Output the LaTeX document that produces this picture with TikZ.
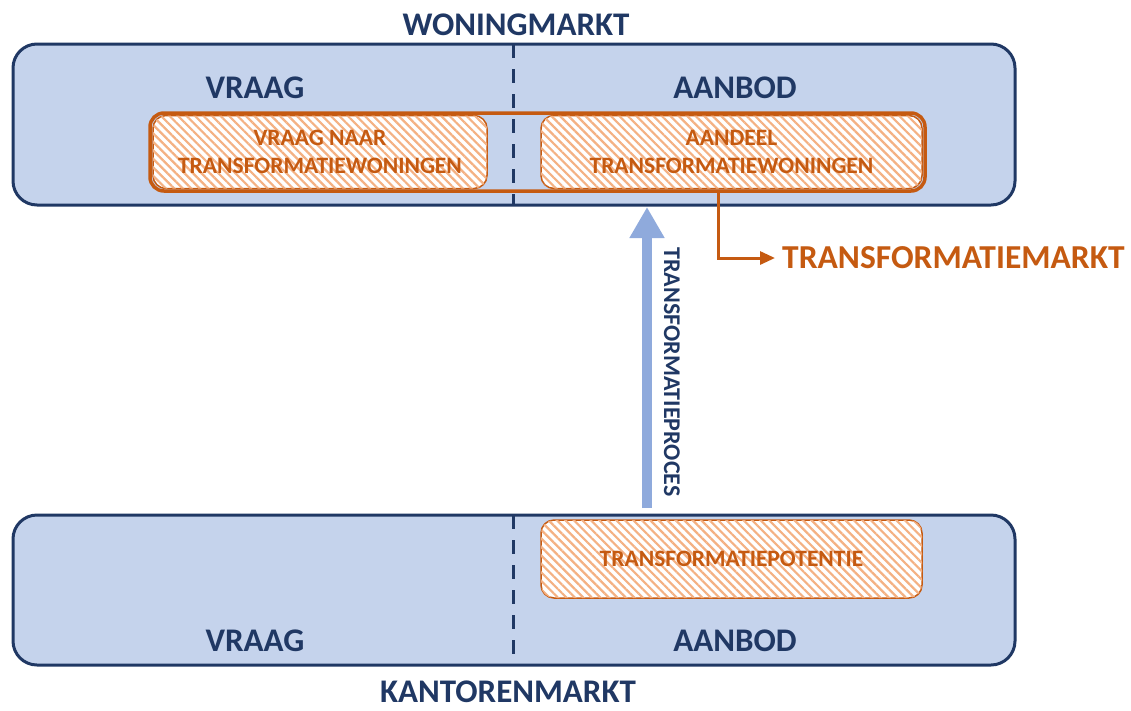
\documentclass[tikz,border=0pt]{standalone}
\usepackage{fontspec}
\setmainfont{Carlito}
\usetikzlibrary{patterns.meta,arrows.meta}
\definecolor{navy}{HTML}{203864}
\definecolor{boxfill}{HTML}{C5D3EC}
\definecolor{orng}{HTML}{C55A11}
\definecolor{hatch}{HTML}{F4B183}
\definecolor{arrowblue}{HTML}{8FAADC}
\tikzset{
  market/.style={draw=navy, line width=3pt, fill=boxfill, rounded corners=24pt},
  divider/.style={draw=navy, line width=3pt, dash pattern=on 14pt off 11pt},
  hatchbox/.style={draw=orng, line width=1.5pt, rounded corners=13pt, fill=white,
    postaction={pattern={Lines[angle=-45,distance=6pt,line width=2.2pt]}, pattern color=hatch},
    text=orng, font=\fontsize{23.5}{28.5}\selectfont\bfseries, align=center, inner sep=0pt},
  head/.style={text=navy, font=\fontsize{33}{38}\selectfont\bfseries, inner sep=0pt},
  side/.style={text=navy, font=\fontsize{33}{38}\selectfont\bfseries, inner sep=0pt},
}
\begin{document}
\begin{tikzpicture}[x=1pt,y=-1pt]
\useasboundingbox (0,0) rectangle (1131,710);
% top market
\draw[market] (13,44) rectangle (1015,205);
\coordinate (dt1) at (513,44);
\coordinate (db1) at (513,205);
\draw[divider] (dt1) -- (db1);
\node[head] (woning) at (516,25) {WONINGMARKT};
\node[side] (vraag1) at (255,88) {VRAAG};
\node[side] (aanbod1) at (735,88) {AANBOD};
\draw[draw=orng, line width=3.5pt, rounded corners=14pt] (150,113) rectangle (925,191);
\node[hatchbox, minimum width=334pt, minimum height=73pt] (vnt) at (320,152) {VRAAG NAAR\\TRANSFORMATIEWONINGEN};
\node[hatchbox, minimum width=381pt, minimum height=73pt] (adt) at (731.5,152) {AANDEEL\\TRANSFORMATIEWONINGEN};
% transformatiemarkt
\coordinate (tmstart) at (718,191);
\node[text=orng, font=\fontsize{33.5}{38}\selectfont\bfseries, anchor=west, inner sep=0pt] (tm) at (782,258) {TRANSFORMATIEMARKT};
\draw[draw=orng, line width=3pt, -{Triangle[length=15pt,width=13pt]}] (tmstart) |- ([xshift=-7pt]tm.west);
% bottom market
\draw[market] (13,515) rectangle (1015,665);
\coordinate (dt2) at (513,515);
\coordinate (db2) at (513,665);
\draw[divider] (dt2) -- (db2);
\node[hatchbox, minimum width=381pt, minimum height=78pt] (tp) at (731.5,559) {TRANSFORMATIEPOTENTIE};
\node[side] (vraag2) at (255,641) {VRAAG};
\node[side] (aanbod2) at (735,641) {AANBOD};
\node[head] (kantoren) at (508,692) {KANTORENMARKT};
% blue arrow
\coordinate (abot) at (647,508);
\coordinate (atop) at (647,207);
\draw[draw=arrowblue, line width=10pt, -{Triangle[length=31pt,width=33pt]}] (abot) -- (atop);
\node[text=navy, font=\fontsize{24}{28}\selectfont\bfseries, rotate=-90, inner sep=0pt] (proces) at (672,372) {TRANSFORMATIEPROCES};
\end{tikzpicture}
\end{document}
